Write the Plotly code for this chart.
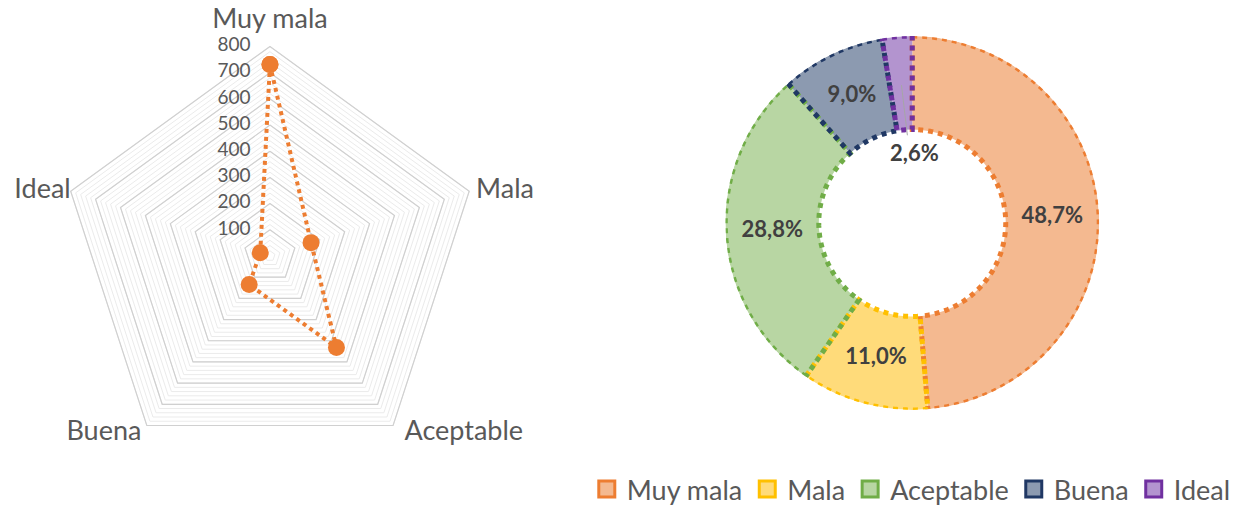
import numpy as np
import plotly.graph_objects as go

# Survey results per rating
categories = ["Muy mala", "Mala", "Aceptable", "Buena", "Ideal"]
counts = [731, 165, 432, 135, 39]

# Radial axis ticks for the radar
radial_major = [0, 100, 200, 300, 400, 500, 600, 700, 800]
radial_minor_step = 20
radial_headroom = 850  # axis extends past 800 to leave room for the top label

# Donut colours (fill / dotted border)
fills = ["#F4B990", "#FFDB7A", "#B8D6A3", "#8C9AB0", "#B394CF"]
borders = ["#ED7D31", "#FFC000", "#70AD47", "#203864", "#7030A0"]

FONT = "Lato, 'Open Sans', sans-serif"
TXT = "#595959"
NBSP = "\u00a0"

fig = go.Figure()

# ---- radar (polar) ----
theta_closed = categories + [categories[0]]

# darker rings at every 100 (the 800 ring is the outer frame)
for v in radial_major[1:]:
    fig.add_trace(go.Scatterpolar(
        r=[v] * len(theta_closed), theta=theta_closed, mode="lines",
        line=dict(color="#D0D0D0", width=1.2), hoverinfo="skip",
        showlegend=False, subplot="polar"))

fig.add_trace(go.Scatterpolar(
    r=counts + [counts[0]], theta=theta_closed, mode="lines+markers",
    line=dict(color="#ED7D31", width=4, dash="dot"),
    marker=dict(color="#ED7D31", size=17),
    showlegend=False, subplot="polar", cliponaxis=False))

# radial tick labels, to the left of the first spoke
fig.add_trace(go.Scatterpolar(
    r=radial_major, theta=[categories[0]] * len(radial_major), mode="text",
    text=[f"{v}{NBSP * 4}" for v in radial_major], textposition="middle left",
    textfont=dict(size=19, color=TXT, family=FONT),
    showlegend=False, subplot="polar", hoverinfo="skip", cliponaxis=False))

# category labels just outside the outer ring
cat_r = [845, 800, 835, 835, 800]
cat_pos = ["top center", "middle right", "middle right", "middle left", "middle left"]
cat_text = [categories[0], NBSP + categories[1], NBSP + categories[2],
            categories[3], categories[4]]
fig.add_trace(go.Scatterpolar(
    r=cat_r, theta=categories, mode="text",
    text=cat_text, textposition=cat_pos,
    textfont=dict(size=27, color=TXT, family=FONT),
    showlegend=False, subplot="polar", hoverinfo="skip", cliponaxis=False))

tickvals = list(range(0, 801, radial_minor_step))

# ---- donut built on a second polar subplot ----
total = sum(counts)
spans = [c / total * 360 for c in counts]
starts = np.concatenate([[0], np.cumsum(spans)[:-1]])
mids = starts + np.array(spans) / 2
r_in, r_out = 0.5, 1.0

for i, cat in enumerate(categories):
    fig.add_trace(go.Barpolar(
        r=[r_out - r_in], base=[r_in], theta=[mids[i]], width=[spans[i]],
        marker=dict(color=fills[i], line=dict(width=0)),
        name=cat, showlegend=False, subplot="polar2", hoverinfo="skip"))

for i, cat in enumerate(categories):
    a0, a1 = starts[i], starts[i] + spans[i]
    arc = np.linspace(a0, a1, max(int(spans[i] * 2), 4))
    th = np.concatenate([arc, arc[::-1], [a0]])
    rr = np.concatenate([np.full(arc.size, r_out), np.full(arc.size, r_in), [r_out]])
    fig.add_trace(go.Scatterpolar(
        r=rr, theta=th, mode="lines",
        line=dict(color=borders[i], width=5, dash="dot"),
        showlegend=False, subplot="polar2", hoverinfo="skip", cliponaxis=False))

# percentage labels
pct = [f"{c / total * 100:.1f}".replace(".", ",") + "%" for c in counts]
label_r = [0.75, 0.75, 0.75, 0.75, 0.36]
label_theta = list(mids[:4]) + [mids[4] + 6.5]
fig.add_trace(go.Scatterpolar(
    r=label_r, theta=label_theta, mode="text", text=pct,
    textfont=dict(family=FONT, size=22, color="#404040", weight="bold"),
    showlegend=False, subplot="polar2", hoverinfo="skip"))

# leader line for the small slice
fig.add_trace(go.Scatterpolar(
    r=[0.74, 0.47], theta=[mids[4] + 0.2, mids[4] + 1.5], mode="lines",
    line=dict(color="#A6A6A6", width=1),
    showlegend=False, subplot="polar2", hoverinfo="skip"))

# legend entries
for i, cat in enumerate(categories):
    fig.add_trace(go.Scatterpolar(
        r=[None], theta=[None], mode="markers", name=cat,
        marker=dict(symbol="square", size=17, color=fills[i],
                    line=dict(color=borders[i], width=3)),
        subplot="polar2", showlegend=True))

fig.update_layout(
    width=1242, height=514,
    margin=dict(l=0, r=0, t=0, b=0),
    paper_bgcolor="white", plot_bgcolor="white",
    font=dict(family=FONT, color=TXT),
    polar=dict(
        domain=dict(x=[0.0360, 0.3987], y=[0.0579, 0.9343]),
        gridshape="linear", bgcolor="white",
        radialaxis=dict(range=[0, radial_headroom], tickvals=tickvals,
                        showticklabels=False, angle=90, showline=False, ticks="",
                        gridcolor="#EBEBEB", gridwidth=1),
        angularaxis=dict(rotation=90, direction="clockwise", showgrid=False,
                         showticklabels=False, showline=False, ticks=""),
    ),
    polar2=dict(
        domain=dict(x=[0.5825, 0.8865], y=[0.193, 0.929]),
        bgcolor="rgba(0,0,0,0)", hole=0,
        radialaxis=dict(range=[0, 1], visible=False),
        angularaxis=dict(rotation=90, direction="clockwise", visible=False),
    ),
    legend=dict(orientation="h", x=0.995, xanchor="right", y=-0.012, yanchor="bottom",
                font=dict(size=27, color=TXT, family=FONT),
                itemwidth=30, tracegroupgap=0, bgcolor="rgba(0,0,0,0)"),
    showlegend=True,
)

fig.write_html("out.html")
